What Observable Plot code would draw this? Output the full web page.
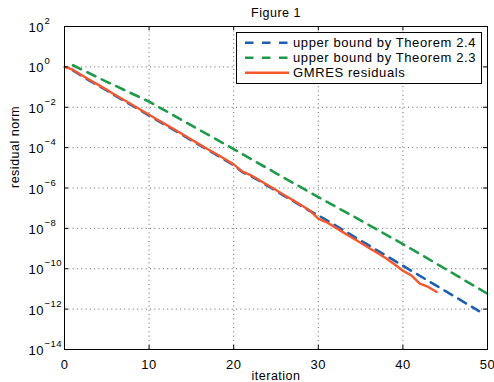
<!DOCTYPE html>
<html><head><meta charset="utf-8">
<script src="https://cdn.jsdelivr.net/npm/d3@7"></script>
<script src="https://cdn.jsdelivr.net/npm/@observablehq/plot@0.6"></script>
<style>
html,body{margin:0;padding:0;background:#fff;}
svg{font-family:"Liberation Sans",Arial,Helvetica,sans-serif;}
</style></head><body><div id="chart"></div>
<script>
// ---- data (log10 of residual norm) ----
const gmresIter = [0,1,2,3,4,5,6,7,8,9,10,11,12,13,14,15,16,17,18,19,20,21,22,23,24,25,26,27,28,29,30,31,32,33,34,35,36,37,38,39,40,41,42,43,44];
const gmresLog  = [0,-0.14,-0.40,-0.65,-0.89,-1.13,-1.39,-1.63,-1.88,-2.12,-2.37,-2.62,-2.86,-3.10,-3.35,-3.60,-3.85,-4.09,-4.33,-4.58,-4.83,-5.18,-5.36,-5.60,-5.85,-6.10,-6.36,-6.60,-6.85,-7.12,-7.52,-7.70,-7.95,-8.21,-8.46,-8.71,-8.97,-9.22,-9.48,-9.78,-10.10,-10.33,-10.74,-10.90,-11.15];

const thm24Iter = [1,2,3,4,5,6,7,8,9,10,11,12,13,14,15,16,17,18,19,20,21,22,23,24,25,26,27,28,29,30,35,40,45,49];
const thm24Log  = [-0.18,-0.44,-0.69,-0.93,-1.17,-1.43,-1.67,-1.92,-2.16,-2.41,-2.66,-2.90,-3.14,-3.39,-3.64,-3.89,-4.13,-4.37,-4.62,-4.87,-5.21,-5.40,-5.64,-5.89,-6.14,-6.40,-6.64,-6.89,-7.14,-7.35,-8.60,-9.85,-11.10,-12.10];

const thm23Iter = [1,5,10,15,20,25,30,35,40,45,50];
const thm23Log  = [0.08,-0.74,-1.72,-2.90,-4.07,-5.27,-6.45,-7.60,-8.78,-10.00,-11.24];

const xTicks = [0,10,20,30,40,50];
const yTickExp = [2,0,-2,-4,-6,-8,-10,-12,-14];

const seriesNames = ["upper bound by Theorem 2.4","upper bound by Theorem 2.3","GMRES residuals"];
const seriesColors = ["#1f5fb0","#1f9a48","#f5582e"];
const seriesDash = ["9,7","9,7",null];

// ---- build tables ----
const toRows = (xs, ls, s) => xs.map((x,i)=>({x, y: Math.pow(10, ls[i]), s}));
const gmres = toRows(gmresIter, gmresLog, seriesNames[2]);
const thm24 = toRows(thm24Iter, thm24Log, seriesNames[0]);
const thm23 = toRows(thm23Iter, thm23Log, seriesNames[1]);
const yTicks = yTickExp.map(e=>Math.pow(10,e));

const W = 494, H = 382, mL = 64, mR = 7, mT = 26, mB = 33;
const fw = W - mL - mR, fh = H - mT - mB;
const tick = 4;
const font = "'Liberation Sans',Arial,Helvetica,sans-serif";

const plot = Plot.plot({
  width: W, height: H,
  marginLeft: mL, marginRight: mR, marginTop: mT, marginBottom: mB,
  style: {fontFamily: font, background: "#fff", color: "#000"},
  x: {domain: [0,50], axis: null},
  y: {type: "log", domain: [1e-14, 1e2], axis: null},
  marks: [
    // dotted grid
    Plot.ruleX(xTicks.slice(1,-1), {x: d=>d, stroke: "#555", strokeWidth: 1, strokeDasharray: "1,3.3", strokeOpacity: 0.9}),
    Plot.ruleY(yTicks.slice(1,-1), {y: d=>d, stroke: "#555", strokeWidth: 1, strokeDasharray: "1,3.3", strokeOpacity: 0.9}),
    // curves
    Plot.line(thm23, {x: "x", y: "y", stroke: seriesColors[1], strokeWidth: 2.6, strokeDasharray: seriesDash[1]}),
    Plot.line(thm24, {x: "x", y: "y", stroke: seriesColors[0], strokeWidth: 2.6, strokeDasharray: seriesDash[0]}),
    Plot.line(gmres, {x: "x", y: "y", stroke: seriesColors[2], strokeWidth: 2.4}),
    // frame & inward ticks
    Plot.frame({stroke: "#000", strokeWidth: 1}),
    Plot.ruleX(xTicks, {x: d=>d, insetTop: fh - tick, stroke: "#000"}),
    Plot.ruleX(xTicks, {x: d=>d, insetBottom: fh - tick, stroke: "#000"}),
    Plot.ruleY(yTicks, {y: d=>d, insetRight: fw - tick, stroke: "#000"}),
    Plot.ruleY(yTicks, {y: d=>d, insetLeft: fw - tick, stroke: "#000"}),
    // x tick labels
    Plot.text(xTicks, {x: d=>d, frameAnchor: "bottom", dy: 19.5, lineAnchor: "bottom", text: d=>String(d), fontSize: 13, fill: "#000", textAnchor: "middle"}),
    // y tick labels: base and exponent
    Plot.text(yTicks, {y: d=>d, frameAnchor: "left", dx: -36, dy: 5.5, lineAnchor: "bottom", textAnchor: "start", text: d=>"10", fontSize: 13, fill: "#000"}),
    Plot.text(yTickExp, {y: e=>Math.pow(10,e), frameAnchor: "left", dx: -20, dy: -2.5, lineAnchor: "bottom", textAnchor: "start", text: e=> (e<0 ? "\u2212"+(-e) : String(e)), fontSize: 9.5, fill: "#000"}),
    // axis labels & title
    Plot.text(["iteration"], {frameAnchor: "bottom", dy: 30, lineAnchor: "bottom", text: d=>d, fontSize: 12.5, fill: "#000"}),
    Plot.text(["residual norm"], {frameAnchor: "left", dx: -50, rotate: -90, text: d=>d, fontSize: 12.5, fill: "#000"}),
    Plot.text(["Figure 1"], {frameAnchor: "top", dy: -10, lineAnchor: "bottom", text: d=>d, fontSize: 12.5, fill: "#000"})
  ]
});

// letter spacing to mimic the slightly stretched source text
d3.select(plot).selectAll("text").style("letter-spacing", "0.5px");

// ---- legend ----
const svg = d3.select(plot);
const lx = mL + fw - 6 - 245, ly = mT + 6, lw = 245, lh = 51;
const lg = svg.append("g").attr("text-anchor", "start");
lg.append("rect").attr("x", lx + 0.5).attr("y", ly + 0.5).attr("width", lw).attr("height", lh)
  .attr("fill", "#fff").attr("stroke", "#000").attr("stroke-width", 1);
seriesNames.forEach((name, i) => {
  const yy = ly + 10.7 + i * 15;
  lg.append("line").attr("x1", lx + 9).attr("x2", lx + 53).attr("y1", yy).attr("y2", yy)
    .attr("stroke", seriesColors[i]).attr("stroke-width", 2.6)
    .attr("stroke-dasharray", seriesDash[i] ? "8.5,8.5" : null);
  lg.append("text").attr("x", lx + 57).attr("y", yy + 4.6).text(name)
    .attr("text-anchor", "start")
    .attr("font-size", 13).attr("fill", "#000").style("letter-spacing", "0.6px")
    .attr("font-family", font);
});

document.getElementById("chart").append(plot);
</script></body></html>
